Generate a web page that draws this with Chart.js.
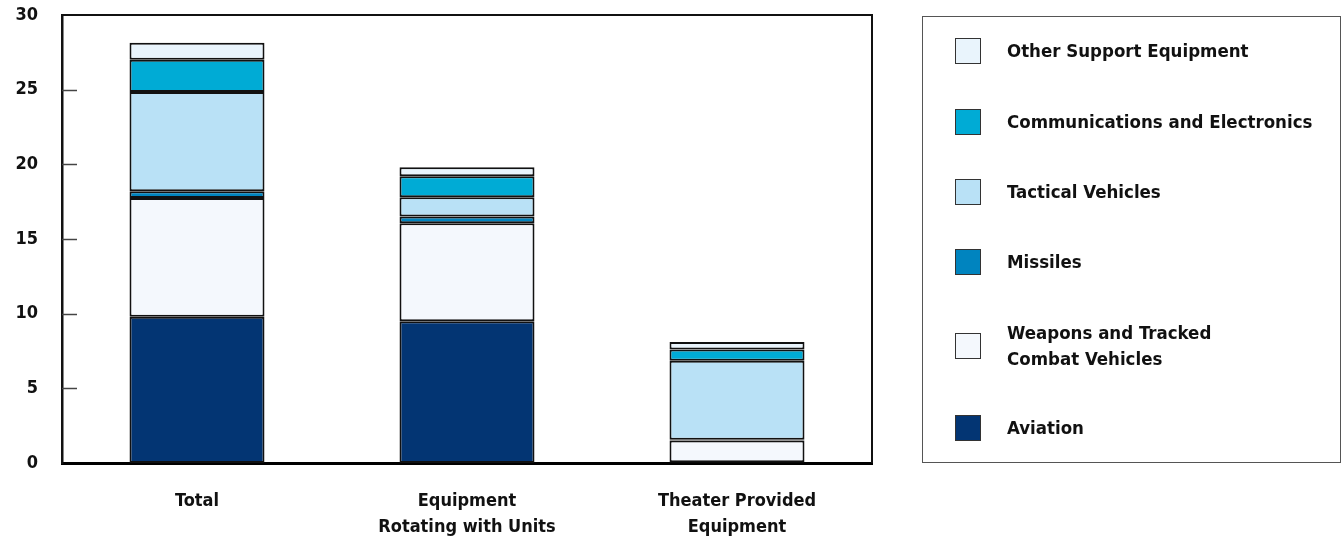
<!DOCTYPE html>
<html>
<head>
<meta charset="utf-8">
<script src="https://cdn.jsdelivr.net/npm/chart.js@4/dist/chart.umd.min.js"></script>
<style>
  html, body { margin: 0; padding: 0; background: #fff; }
  #wrap { position: relative; width: 1344px; height: 540px; }
  #chart { position: absolute; left: 0; top: 0; }
  #legend {
    position: absolute; left: 922px; top: 16px; width: 419px; height: 447px;
    border: 1.5px solid #555; box-sizing: border-box;
    font-family: "DejaVu Sans Condensed", "DejaVu Sans", sans-serif;
    font-weight: bold; font-size: 18.5px; color: #111;
  }
  .item { position: absolute; left: 32px; display: flex; align-items: center; }
  .swatch { width: 26px; height: 26px; border: 1.5px solid #333; box-sizing: border-box; margin-right: 26px; flex: none; }
  .label { line-height: 26px; }
</style>
</head>
<body>
<div id="wrap">
  <canvas id="chart" width="1344" height="540"></canvas>
  <div id="legend"></div>
</div>
<script>
var categories = [['Total'], ['Equipment', 'Rotating with Units'], ['Theater Provided', 'Equipment']];

var aviation = [9.8, 9.5, 0.05];
var weapons = [7.95, 6.55, 1.45];
var missiles = [0.45, 0.45, 0.05];
var tactical = [6.65, 1.3, 5.3];
var comms = [2.15, 1.4, 0.75];
var otherSupport = [1.15, 0.6, 0.5];

var seriesNames = ['Aviation', 'Weapons and Tracked Combat Vehicles', 'Missiles', 'Tactical Vehicles', 'Communications and Electronics', 'Other Support Equipment'];
var seriesColors = ['#033573', '#f4f8fd', '#0084bf', '#b9e1f6', '#00abd5', '#e9f4fc'];
var yTicks = [0, 5, 10, 15, 20, 25, 30];

var fontFamily = '"DejaVu Sans Condensed", "DejaVu Sans", sans-serif';
var seriesValues = [aviation, weapons, missiles, tactical, comms, otherSupport];

var datasets = seriesValues.map(function(vals, i) {
    return {
        label: seriesNames[i],
        data: vals,
        backgroundColor: seriesColors[i],
        borderColor: '#111',
        borderWidth: 2,
        borderSkipped: false,
        barPercentage: 0.5,
        categoryPercentage: 1.0
    };
});

// frame on top/right plus short inward ticks on the left axis
var framePlugin = {
    id: 'frame',
    afterDraw: function(chart) {
        var ctx = chart.ctx;
        var a = chart.chartArea;
        var y = chart.scales.y;
        ctx.save();
        ctx.strokeStyle = '#111';
        ctx.lineWidth = 2;
        ctx.beginPath();
        ctx.moveTo(a.left, a.top);
        ctx.lineTo(a.right, a.top);
        ctx.lineTo(a.right, a.bottom);
        ctx.stroke();
        ctx.strokeStyle = '#444';
        ctx.lineWidth = 1.5;
        yTicks.forEach(function(v) {
            if (v === 0 || v === 30) return;
            var py = Math.round(y.getPixelForValue(v)) + 0.5;
            ctx.beginPath();
            ctx.moveTo(a.left, py);
            ctx.lineTo(a.left + 15, py);
            ctx.stroke();
        });
        ctx.restore();
    }
};

new Chart(document.getElementById('chart').getContext('2d'), {
    type: 'bar',
    data: { labels: categories, datasets: datasets },
    options: {
        responsive: false,
        animation: false,
        layout: { padding: { top: 15, right: 472, left: 0, bottom: 0 } },
        plugins: { legend: { display: false }, tooltip: { enabled: false } },
        scales: {
            x: {
                stacked: true,
                grid: { display: false, drawTicks: false },
                border: { display: true, color: '#000', width: 3 },
                ticks: {
                    color: '#111',
                    padding: 25,
                    font: { family: fontFamily, weight: 'bold', size: 18, lineHeight: 1.45 }
                },
                afterFit: function(s) { s.height = 77; s.paddingLeft = 0; s.paddingRight = 0; }
            },
            y: {
                stacked: true,
                min: 0,
                max: 30,
                grid: { display: false, drawTicks: false },
                border: { display: true, color: '#111', width: 2.5 },
                ticks: {
                    stepSize: 5,
                    color: '#111',
                    padding: 24,
                    font: { family: fontFamily, weight: 'bold', size: 18 }
                },
                afterFit: function(s) { s.width = 62; s.paddingTop = 0; s.paddingBottom = 0; }
            }
        }
    },
    plugins: [framePlugin]
});

// legend, top to bottom as in the original
var legendRows = [
    { idx: 5, top: 21 },
    { idx: 4, top: 92 },
    { idx: 3, top: 162 },
    { idx: 2, top: 232 },
    { idx: 1, top: 303, text: 'Weapons and Tracked<br>Combat Vehicles' },
    { idx: 0, top: 398 }
];
var legend = document.getElementById('legend');
legendRows.forEach(function(r) {
    var item = document.createElement('div');
    item.className = 'item';
    item.style.top = r.top + 'px';
    item.innerHTML = '<div class="swatch" style="background:' + seriesColors[r.idx] + '"></div>' +
        '<div class="label">' + (r.text || seriesNames[r.idx]) + '</div>';
    legend.appendChild(item);
});
</script>
</body>
</html>
